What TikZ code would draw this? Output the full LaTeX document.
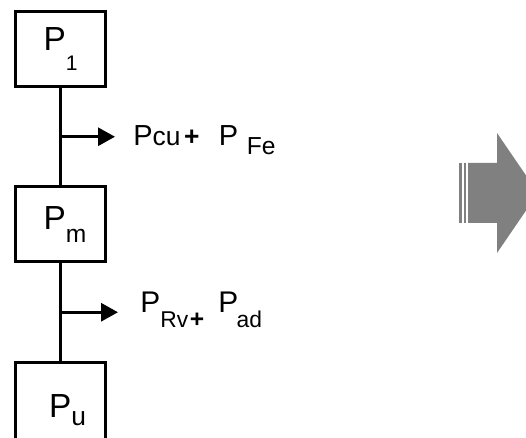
\documentclass[tikz,border=0pt]{standalone}
\usepackage{fontspec}
\setmainfont{Liberation Sans}
\usepackage{xcolor}
\usetikzlibrary{arrows.meta, positioning, calc}
\definecolor{arrowgray}{HTML}{808080}
\newcommand{\low}[3]{\raisebox{-#1pt}{\fontsize{#2}{#2}\selectfont #3}}

\begin{document}
\begin{tikzpicture}[
        node distance=1.95cm,
        box/.style={rectangle, draw, line width=0.06cm, minimum width=1.8cm, minimum height=1.5cm, inner sep=0pt, font=\fontsize{19}{19}\selectfont},
        loss/.style={inner sep=0pt, anchor=base west, font=\fontsize{16.5}{16.5}\selectfont},
        wire/.style={line width=0.06cm},
        flowline/.style={line width=0.06cm, -{Triangle[length=0.34cm, width=0.36cm]}}
    ]
    \path[use as bounding box, clip] (0,0) rectangle (10.52,-8.76);
    % power stages
    \node[box] (p1) at (1.21,-0.98) {P\low{11}{12}{1}\hspace{9pt}};
    \node[box, below=of p1] (pm) {\hspace{5pt}P\low{7}{14}{m}};
    \node[box, below=of pm, minimum height=1.9cm] (pu) {\hspace{8pt}P\low{4.5}{15}{u}};
    \draw[wire] (p1.south) -- (pm.north);
    \draw[wire] (pm.south) -- (pu.north);
    % losses
    \coordinate (b1) at ($(p1.south)!0.5!(pm.north)$);
    \coordinate (b2) at ($(pm.south)!0.5!(pu.north)$);
    \node[loss] (loss1) at ([xshift=1.45cm, yshift=-0.17cm]b1)
        {P\low{0}{15}{cu}\hspace{2pt}\low{0}{15}{\textbf{+}}\hspace{11pt}P\hspace{5pt}\low{5}{14}{Fe}};
    \node[loss, font=\fontsize{17}{17}\selectfont] (loss2) at ([xshift=1.59cm]b2)
        {P\low{8.5}{13}{Rv}\hspace{1pt}\low{8.5}{14}{\textbf{+}}\hspace{8pt}P\hspace{-1pt}\low{8.5}{13}{ad}};
    \draw[flowline, shorten >=0.36cm] (b1) -- (b1 -| loss1.west);
    \draw[flowline, shorten >=0.44cm] (b2) -- (b2 -| loss2.west);
    % big arrow
    \fill[arrowgray] (9.18,-3.26) rectangle (9.23,-4.46);
    \fill[arrowgray] (9.27,-3.26) rectangle (9.32,-4.46);
    \fill[arrowgray] (9.36,-3.26) -- (9.94,-3.26) -- (9.94,-2.66) -- (10.76,-3.86)
        -- (9.94,-5.06) -- (9.94,-4.46) -- (9.36,-4.46) -- cycle;
\end{tikzpicture}
\end{document}
